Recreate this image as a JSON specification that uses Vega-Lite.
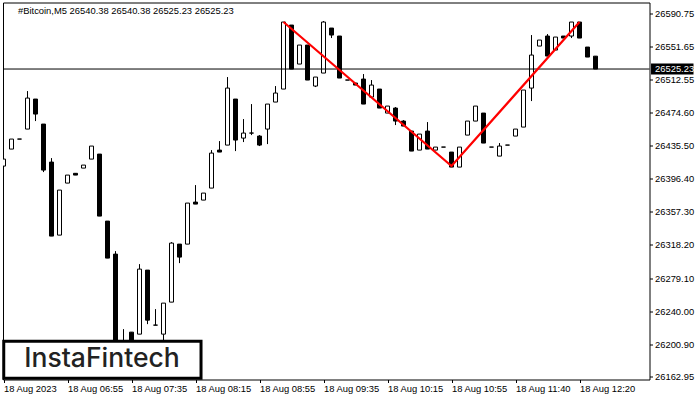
{
  "$schema": "https://vega.github.io/schema/vega-lite/v6.json",
  "description": "Bitcoin M5 candles with red double pattern line",
  "width": 646.5,
  "height": 377,
  "autosize": "none",
  "padding": {"left": 3, "top": 2.5, "right": 50.5, "bottom": 20.5},
  "background": "white",
  "view": {"stroke": "black", "strokeWidth": 1, "fill": "white"},
  "config": {"font": "Liberation Sans", "axis": {"labelOverlap": false}},
  "datasets": {
    "candles": [
      {"bar": 0, "open": 26411.02, "high": 26440.44, "low": 26408.66, "close": 26419.26},
      {"bar": 1, "open": 26431.03, "high": 26442.8, "low": 26431.03, "close": 26442.8},
      {"bar": 2, "open": 26442.8, "high": 26442.8, "low": 26442.8, "close": 26442.8},
      {"bar": 3, "open": 26454.57, "high": 26499.29, "low": 26454.57, "close": 26491.05},
      {"bar": 4, "open": 26489.88, "high": 26489.88, "low": 26463.98, "close": 26472.22},
      {"bar": 5, "open": 26460.45, "high": 26460.45, "low": 26403.96, "close": 26406.31},
      {"bar": 6, "open": 26415.73, "high": 26420.43, "low": 26328.63, "close": 26328.63},
      {"bar": 7, "open": 26329.8, "high": 26382.77, "low": 26329.8, "close": 26382.77},
      {"bar": 8, "open": 26391.01, "high": 26400.42, "low": 26391.01, "close": 26400.42},
      {"bar": 9, "open": 26402.5, "high": 26402.5, "low": 26400.42, "close": 26400.42},
      {"bar": 10, "open": 26408.66, "high": 26412.2, "low": 26408.66, "close": 26412.2},
      {"bar": 11, "open": 26419.26, "high": 26434.56, "low": 26419.26, "close": 26434.56},
      {"bar": 12, "open": 26425.14, "high": 26425.14, "low": 26352.17, "close": 26352.17},
      {"bar": 13, "open": 26346.28, "high": 26346.28, "low": 26302.73, "close": 26302.73},
      {"bar": 14, "open": 26307.44, "high": 26310.97, "low": 26182.68, "close": 26182.68},
      {"bar": 15, "open": 26200.33, "high": 26219.17, "low": 26194.45, "close": 26200.33},
      {"bar": 16, "open": 26215.64, "high": 26215.64, "low": 26194.45, "close": 26194.45},
      {"bar": 17, "open": 26213.28, "high": 26295.67, "low": 26213.28, "close": 26289.79},
      {"bar": 18, "open": 26288.61, "high": 26288.61, "low": 26225.05, "close": 26229.76},
      {"bar": 19, "open": 26223.87, "high": 26242.71, "low": 26223.87, "close": 26223.87},
      {"bar": 20, "open": 26213.28, "high": 26249.77, "low": 26206.22, "close": 26249.77},
      {"bar": 21, "open": 26250.95, "high": 26321.57, "low": 26250.95, "close": 26320.39},
      {"bar": 22, "open": 26319.21, "high": 26319.21, "low": 26296.85, "close": 26303.91},
      {"bar": 23, "open": 26319.21, "high": 26367.47, "low": 26319.21, "close": 26367.47},
      {"bar": 24, "open": 26368.65, "high": 26388.65, "low": 26366.29, "close": 26366.29},
      {"bar": 25, "open": 26371, "high": 26379.24, "low": 26371, "close": 26379.24},
      {"bar": 26, "open": 26385.12, "high": 26429.85, "low": 26385.12, "close": 26426.32},
      {"bar": 27, "open": 26429.85, "high": 26440.44, "low": 26427.5, "close": 26427.5},
      {"bar": 28, "open": 26435.73, "high": 26515.77, "low": 26435.73, "close": 26502.82},
      {"bar": 29, "open": 26489.88, "high": 26489.88, "low": 26428.67, "close": 26441.62},
      {"bar": 30, "open": 26443.97, "high": 26466.34, "low": 26439.27, "close": 26449.86},
      {"bar": 31, "open": 26449.86, "high": 26483.99, "low": 26447.5, "close": 26449.86},
      {"bar": 32, "open": 26446.33, "high": 26447.5, "low": 26434.56, "close": 26435.73},
      {"bar": 33, "open": 26454.57, "high": 26483.99, "low": 26436.91, "close": 26483.99},
      {"bar": 34, "open": 26486.35, "high": 26505.18, "low": 26486.35, "close": 26496.94},
      {"bar": 35, "open": 26501.65, "high": 26580.51, "low": 26501.65, "close": 26580.51},
      {"bar": 36, "open": 26576.97, "high": 26576.97, "low": 26525.19, "close": 26525.19},
      {"bar": 37, "open": 26531.07, "high": 26553.43, "low": 26531.07, "close": 26553.43},
      {"bar": 38, "open": 26553.43, "high": 26553.43, "low": 26512.24, "close": 26512.24},
      {"bar": 39, "open": 26505.18, "high": 26515.77, "low": 26504, "close": 26515.77},
      {"bar": 40, "open": 26520.48, "high": 26581.68, "low": 26520.48, "close": 26580.51},
      {"bar": 41, "open": 26573.44, "high": 26573.44, "low": 26561.67, "close": 26565.2},
      {"bar": 42, "open": 26564.03, "high": 26564.03, "low": 26514.59, "close": 26514.59},
      {"bar": 43, "open": 26512.24, "high": 26512.24, "low": 26512.24, "close": 26512.24},
      {"bar": 44, "open": 26508.71, "high": 26508.71, "low": 26506.35, "close": 26506.35},
      {"bar": 45, "open": 26513.42, "high": 26519.3, "low": 26483.99, "close": 26483.99},
      {"bar": 46, "open": 26492.23, "high": 26512.24, "low": 26492.23, "close": 26506.35},
      {"bar": 47, "open": 26501.65, "high": 26501.65, "low": 26479.28, "close": 26479.28},
      {"bar": 48, "open": 26473.4, "high": 26481.64, "low": 26473.4, "close": 26481.64},
      {"bar": 49, "open": 26479.28, "high": 26480.46, "low": 26459.27, "close": 26463.98},
      {"bar": 50, "open": 26463.98, "high": 26465.16, "low": 26458.1, "close": 26458.1},
      {"bar": 51, "open": 26452.21, "high": 26452.21, "low": 26428.67, "close": 26428.67},
      {"bar": 52, "open": 26429.85, "high": 26448.68, "low": 26429.85, "close": 26448.68},
      {"bar": 53, "open": 26452.21, "high": 26462.81, "low": 26431.03, "close": 26431.03},
      {"bar": 54, "open": 26429.85, "high": 26433.38, "low": 26429.85, "close": 26433.38},
      {"bar": 55, "open": 26433.38, "high": 26433.38, "low": 26433.38, "close": 26433.38},
      {"bar": 56, "open": 26427.5, "high": 26427.5, "low": 26409.84, "close": 26409.84},
      {"bar": 57, "open": 26409.84, "high": 26433.38, "low": 26409.84, "close": 26433.38},
      {"bar": 58, "open": 26447.5, "high": 26463.98, "low": 26447.5, "close": 26463.98},
      {"bar": 59, "open": 26463.98, "high": 26481.64, "low": 26463.98, "close": 26481.64},
      {"bar": 60, "open": 26473.4, "high": 26473.4, "low": 26438.09, "close": 26438.09},
      {"bar": 61, "open": 26433.38, "high": 26433.38, "low": 26433.38, "close": 26433.38},
      {"bar": 62, "open": 26422.79, "high": 26438.09, "low": 26422.79, "close": 26434.56},
      {"bar": 63, "open": 26435.73, "high": 26435.73, "low": 26435.73, "close": 26435.73},
      {"bar": 64, "open": 26446.33, "high": 26454.57, "low": 26446.33, "close": 26454.57},
      {"bar": 65, "open": 26456.92, "high": 26500.47, "low": 26456.92, "close": 26500.47},
      {"bar": 66, "open": 26502.82, "high": 26565.2, "low": 26487.52, "close": 26541.66},
      {"bar": 67, "open": 26552.26, "high": 26559.32, "low": 26552.26, "close": 26559.32},
      {"bar": 68, "open": 26564.03, "high": 26566.38, "low": 26540.49, "close": 26540.49},
      {"bar": 69, "open": 26547.55, "high": 26562.85, "low": 26547.55, "close": 26562.85},
      {"bar": 70, "open": 26564.03, "high": 26564.03, "low": 26561.67, "close": 26561.67},
      {"bar": 71, "open": 26564.03, "high": 26580.51, "low": 26561.67, "close": 26580.51},
      {"bar": 72, "open": 26580.51, "high": 26580.51, "low": 26561.67, "close": 26561.67},
      {"bar": 73, "open": 26551.08, "high": 26551.08, "low": 26539.31, "close": 26539.31},
      {"bar": 74, "open": 26540.38, "high": 26540.38, "low": 26525.23, "close": 26525.23}
    ],
    "pattern": [
      {"bar": 35, "price": 26580.51},
      {"bar": 56, "price": 26411.02},
      {"bar": 72, "price": 26580.51}
    ]
  },
  "layer": [
    {
      "data": {"name": "candles"},
      "mark": {"type": "rule", "color": "black", "strokeWidth": 1},
      "encoding": {
        "x": {
          "field": "bar",
          "type": "quantitative",
          "scale": {"domain": [-0.0625, 80.75], "nice": false, "zero": false, "padding": 0},
          "axis": {
            "title": null,
            "values": [0, 8, 16, 24, 32, 40, 48, 56, 64, 72],
            "tickCount": 10,
            "labelExpr": "{'0':'18 Aug 2023','8':'18 Aug 06:55','16':'18 Aug 07:35','24':'18 Aug 08:15','32':'18 Aug 08:55','40':'18 Aug 09:35','48':'18 Aug 10:15','56':'18 Aug 10:55','64':'18 Aug 11:40','72':'18 Aug 12:20'}[datum.value]",
            "grid": false,
            "domain": false,
            "tickColor": "black",
            "tickSize": 3,
            "labelAlign": "left",
            "labelFont": "Liberation Sans",
            "labelFontSize": 9.4,
            "labelColor": "black",
            "labelPadding": 2,
            "labelOverlap": false,
            "labelFlush": false
          }
        },
        "y": {
          "field": "low",
          "type": "quantitative",
          "scale": {"domain": [26159.9, 26603.5], "nice": false, "zero": false, "padding": 0},
          "axis": {
            "orient": "right",
            "title": null,
            "values": [26590.75, 26551.65, 26512.55, 26474.6, 26435.5, 26396.4, 26357.3, 26318.2, 26279.1, 26240, 26200.9, 26162.95],
            "tickCount": 12,
            "format": ".2f",
            "grid": false,
            "domain": false,
            "tickColor": "black",
            "tickSize": 3,
            "labelFont": "Liberation Sans",
            "labelFontSize": 9.4,
            "labelColor": "black",
            "labelPadding": 2,
            "labelOverlap": false,
            "labelBound": false
          }
        },
        "y2": {"field": "high"}
      }
    },
    {
      "data": {"name": "candles"},
      "mark": {"type": "bar", "size": 4, "stroke": "black", "strokeWidth": 1, "clip": true},
      "encoding": {
        "x": {"field": "bar", "type": "quantitative"},
        "y": {"field": "open", "type": "quantitative"},
        "y2": {"field": "close"},
        "fill": {
          "condition": {"test": "datum.close >= datum.open", "value": "white"},
          "value": "black"
        }
      }
    },
    {
      "data": {"values": [{"last": 26525.23}]},
      "mark": {"type": "rule", "color": "black", "strokeWidth": 1},
      "encoding": {"y": {"field": "last", "type": "quantitative"}}
    },
    {
      "data": {"name": "pattern"},
      "mark": {"type": "line", "color": "#ff0000", "strokeWidth": 2.2},
      "encoding": {
        "x": {"field": "bar", "type": "quantitative"},
        "y": {"field": "price", "type": "quantitative"}
      }
    },
    {
      "data": {"values": [{"from": 80.94, "to": 86.25, "top": 26531.66, "bottom": 26518.7}]},
      "mark": {"type": "rect", "color": "black"},
      "encoding": {
        "x": {"field": "from", "type": "quantitative"},
        "x2": {"field": "to"},
        "y": {"field": "top", "type": "quantitative"},
        "y2": {"field": "bottom"}
      }
    },
    {
      "data": {"values": [{"bar": 81.44, "last": 26525.23, "label": "26525.23"}]},
      "mark": {"type": "text", "align": "left", "baseline": "middle", "font": "Liberation Sans", "fontSize": 9.4, "color": "white"},
      "encoding": {
        "x": {"field": "bar", "type": "quantitative"},
        "y": {"field": "last", "type": "quantitative"},
        "text": {"field": "label"}
      }
    },
    {
      "data": {"values": [{"bar": 1.81, "price": 26593.5, "label": "#Bitcoin,M5   26540.38 26540.38 26525.23 26525.23"}]},
      "mark": {"type": "text", "align": "left", "baseline": "middle", "font": "Liberation Sans", "fontSize": 9.4, "color": "black"},
      "encoding": {
        "x": {"field": "bar", "type": "quantitative"},
        "y": {"field": "price", "type": "quantitative"},
        "text": {"field": "label"}
      }
    },
    {
      "data": {"values": [{"from": 0.03, "to": 24.69, "top": 26205.04, "bottom": 26161.49}]},
      "mark": {"type": "rect", "fill": "white", "stroke": "black", "strokeWidth": 3},
      "encoding": {
        "x": {"field": "from", "type": "quantitative"},
        "x2": {"field": "to"},
        "y": {"field": "top", "type": "quantitative"},
        "y2": {"field": "bottom"}
      }
    },
    {
      "data": {"values": [{"bar": 12.31, "price": 26183.9, "label": "InstaFintech"}]},
      "mark": {"type": "text", "align": "center", "baseline": "middle", "font": "Inter", "fontSize": 26.5, "fontWeight": 500, "color": "#222222"},
      "encoding": {
        "x": {"field": "bar", "type": "quantitative"},
        "y": {"field": "price", "type": "quantitative"},
        "text": {"field": "label"}
      }
    }
  ]
}
